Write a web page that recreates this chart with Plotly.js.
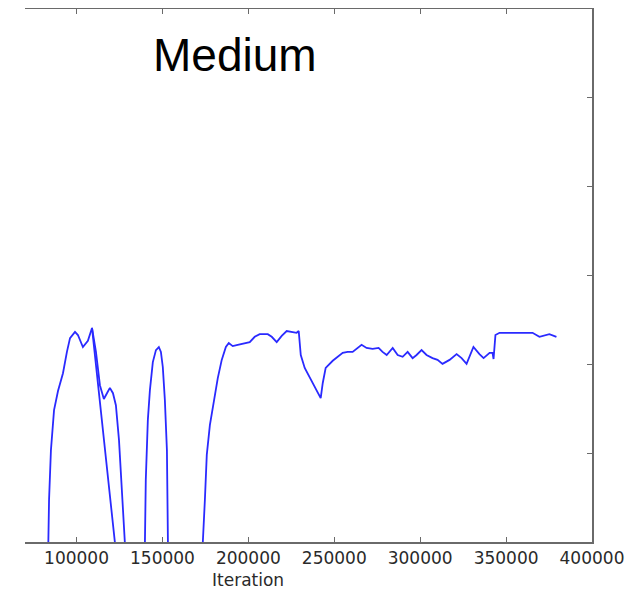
<!DOCTYPE html>
<html>
<head>
<meta charset="utf-8">
<script src="https://cdn.plot.ly/plotly-3.0.1.min.js"></script>
<style>
  html, body { margin: 0; padding: 0; background: #ffffff; }
  #chart { width: 640px; height: 595px; }
</style>
</head>
<body>
<div id="chart"></div>
<script>
// Training curve for the "Medium" setting: score against iteration.
// Values below zero fall outside the visible y range and are clipped.
const iterations = [
  82800, 83400, 84000, 85100, 86900, 89200, 92100, 94400, 96200, 99100,
  100800, 103700, 106600, 109000, 111300, 113600, 115900, 117700, 119400, 121200,
  122900, 124700, 126400, 128100, 129300,
  138600, 139200, 139800, 140300, 141500, 142700, 144400, 146200, 147900, 149100,
  150200, 151400, 152600, 153100, 153700,
  172900, 173500, 174700, 175800, 177600, 179900, 182200, 184500, 186900, 188600,
  190900, 193800, 197900, 200800, 203700, 206600, 211300, 213600, 216500, 219400,
  222300, 225200, 228100, 229300, 230500, 232800, 237400, 242100, 243300, 245000,
  249100, 254900, 257800, 260700, 265900, 268800, 272300, 275800, 278100, 280500,
  284000, 286900, 289800, 292700, 295600, 297900, 300800, 303700, 307200, 310100,
  313000, 317100, 321200, 324100, 327000, 328700, 331000, 334500, 336900, 340400,
  342100, 342700, 343800, 346200, 353700, 365400, 369400, 373500, 375200, 379300,
  null,
  109000, 122300, 123500
];

const scores = [
  -0.18, 0.000, 0.095, 0.207, 0.297, 0.340, 0.380, 0.428, 0.459, 0.473,
  0.466, 0.439, 0.453, 0.482, 0.428, 0.353, 0.322, 0.335, 0.347, 0.335,
  0.308, 0.230, 0.117, 0.000, -0.18,
  -0.18, -0.18, 0.000, 0.140, 0.275, 0.342, 0.405, 0.432, 0.439, 0.428,
  0.394, 0.320, 0.207, 0.000, -0.18,
  -0.18, 0.000, 0.095, 0.196, 0.263, 0.320, 0.369, 0.410, 0.439, 0.448,
  0.441, 0.444, 0.448, 0.450, 0.462, 0.468, 0.468, 0.462, 0.450, 0.464,
  0.475, 0.473, 0.471, 0.475, 0.421, 0.392, 0.358, 0.324, 0.358, 0.392,
  0.408, 0.426, 0.428, 0.428, 0.444, 0.437, 0.435, 0.437, 0.428, 0.421,
  0.437, 0.421, 0.417, 0.428, 0.414, 0.421, 0.432, 0.421, 0.414, 0.410,
  0.401, 0.410, 0.423, 0.414, 0.401, 0.417, 0.439, 0.423, 0.414, 0.426,
  0.426, 0.412, 0.466, 0.471, 0.471, 0.471, 0.462, 0.466, 0.468, 0.462,
  null,
  0.482, 0.000, -0.18
];

const xTickValues = [100000, 150000, 200000, 250000, 300000, 350000, 400000];
const yTickValues = [0.2, 0.4, 0.6, 0.8, 1.0];
const panelTitle = 'Medium';
const xLabel = 'Iteration';

const spine = '#6a6a6a';

Plotly.newPlot('chart', [{
  type: 'scatter',
  mode: 'lines',
  x: iterations,
  y: scores,
  connectgaps: false,
  line: { color: '#2a2aff', width: 1.8, shape: 'linear' },
  hoverinfo: 'skip'
}], {
  width: 640,
  height: 595,
  margin: { l: 25, r: 48, t: 9, b: 53, pad: 0 },
  paper_bgcolor: '#ffffff',
  plot_bgcolor: '#ffffff',
  showlegend: false,
  xaxis: {
    range: [70000, 400000],
    tickvals: xTickValues,
    tickformat: 'd',
    ticks: 'inside',
    ticklen: 5,
    tickwidth: 1,
    tickcolor: spine,
    showline: true,
    linecolor: spine,
    linewidth: 1.5,
    mirror: 'ticks',
    showgrid: false,
    zeroline: false,
    tickfont: { family: 'DejaVu Sans', size: 17, color: '#2a2a2a' }
  },
  yaxis: {
    range: [0, 1.2],
    tickvals: yTickValues,
    side: 'right',
    showticklabels: false,
    ticks: 'inside',
    ticklen: 5,
    tickwidth: 1,
    tickcolor: spine,
    showline: true,
    linecolor: spine,
    linewidth: 1.5,
    showgrid: false,
    zeroline: false
  },
  annotations: [
    {
      text: panelTitle,
      xref: 'paper', yref: 'paper',
      x: (235 - 25) / 567, y: (542 - 55) / 533,
      xanchor: 'center', yanchor: 'middle',
      showarrow: false,
      font: { family: 'Liberation Sans', size: 46, color: '#000000' }
    },
    {
      text: xLabel,
      xref: 'x', yref: 'paper',
      x: 200000, y: (542 - 580) / 533,
      xanchor: 'center', yanchor: 'middle',
      showarrow: false,
      font: { family: 'DejaVu Sans', size: 17, color: '#2a2a2a' }
    }
  ]
}, { displayModeBar: false, staticPlot: true });
</script>
</body>
</html>
